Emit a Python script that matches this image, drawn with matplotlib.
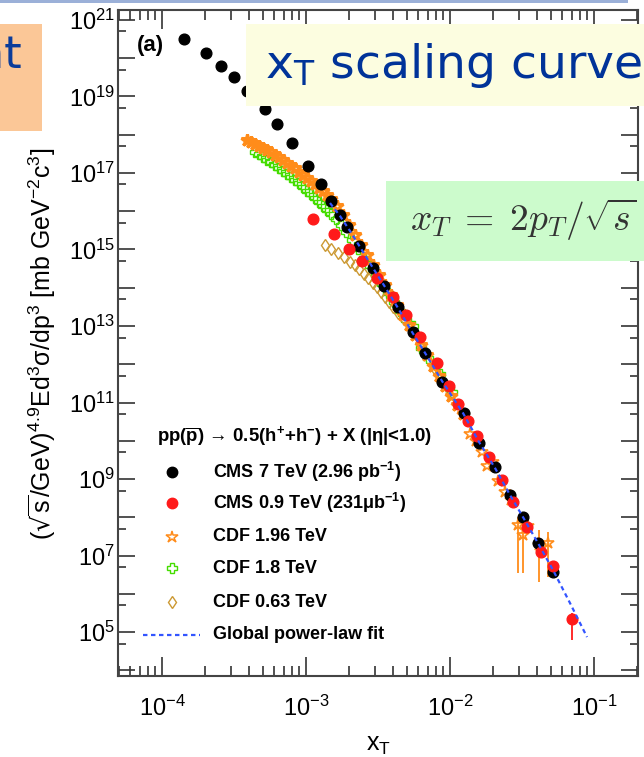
import matplotlib
matplotlib.use("Agg")
import matplotlib.pyplot as plt
from matplotlib.patches import Rectangle
from matplotlib.ticker import LogLocator, FuncFormatter, NullFormatter
import numpy as np

plt.rcParams['font.family'] = ['Liberation Sans', 'DejaVu Sans']

# CMS 7 TeV (black)
cms7_xt = [1.42e-4, 2.01e-4, 2.57e-4, 3.15e-4, 3.91e-4, 5.16e-4, 6.29e-4, 8.04e-4,
           1.03e-3, 1.265e-3, 1.50e-3, 1.72e-3, 1.94e-3, 2.34e-3, 2.92e-3, 3.48e-3,
           4.37e-3, 5.49e-3, 6.70e-3, 8.84e-3, 1.245e-2, 1.58e-2, 2.04e-2, 2.61e-2,
           3.21e-2, 4.06e-2, 5.21e-2]
cms7_y = [3.1e20, 1.35e20, 6.4e19, 3.3e19, 1.39e19, 4.8e18, 1.95e18, 5.97e17,
          1.55e17, 5.07e16, 1.85e16, 8.2e15, 3.8e15, 1.26e15, 3.28e14, 1.11e14,
          3.08e13, 6.97e12, 2.0e12, 3.5e11, 5.2e10, 8.6e9, 2.06e9, 3.8e8,
          1.02e8, 2.16e7, 3.64e6]

# CMS 0.9 TeV (red)
cms09_xt = [1.112e-3, 1.563e-3, 1.99e-3, 2.45e-3, 3.10e-3, 4.0e-3, 4.91e-3, 6.14e-3,
            8.13e-3, 9.84e-3, 1.143e-2, 1.34e-2, 1.53e-2, 1.86e-2, 2.30e-2, 2.75e-2,
            3.41e-2, 4.29e-2, 5.21e-2, 7.0e-2]
cms09_y = [6.27e15, 2.5e15, 1.05e15, 5.0e14, 1.83e14, 5.6e13, 1.97e13, 5.1e12,
           1.06e12, 2.7e11, 8.97e10, 3.38e10, 1.37e10, 3.83e9, 9.4e8, 2.46e8,
           5.46e7, 1.26e7, 5.4e6, 2.15e5]
cms09_last_lo = 6.2e4
cms09_last_hi = 3.14e5

# CDF 1.96 TeV (orange stars), dense low-xT band
cdf196_xt = [3.89e-4, 4.15e-4, 4.42e-4, 4.72e-4, 5.03e-4, 5.36e-4, 5.71e-4, 6.09e-4,
             6.49e-4, 6.92e-4, 7.38e-4, 7.87e-4, 8.39e-4, 8.94e-4, 9.53e-4, 1.016e-3,
             1.083e-3, 1.155e-3, 1.231e-3, 1.312e-3, 1.399e-3, 1.492e-3,
             1.642e-3, 1.807e-3, 1.989e-3, 2.189e-3, 2.409e-3, 2.652e-3, 2.919e-3,
             3.212e-3, 3.536e-3, 3.892e-3, 4.283e-3, 4.715e-3, 5.19e-3, 5.71e-3,
             6.29e-3, 6.92e-3, 7.62e-3, 8.39e-3, 9.23e-3, 1.016e-2, 1.118e-2, 1.231e-2]
cdf196_y = [7.30e17, 6.52e17, 5.80e17, 5.14e17, 4.51e17, 3.95e17, 3.44e17, 2.96e17,
            2.54e17, 2.17e17, 1.85e17, 1.56e17, 1.31e17, 1.09e17, 9.08e16, 7.50e16,
            6.14e16, 5.00e16, 4.05e16, 3.28e16, 2.63e16, 2.10e16,
            1.37e16, 7.98e15, 4.38e15, 2.40e15, 1.31e15, 7.18e14, 3.93e14,
            2.15e14, 1.18e14, 6.46e13, 3.54e13, 1.94e13, 1.06e13, 5.82e12,
            3.18e12, 1.75e12, 8.99e11, 4.93e11, 2.70e11, 1.48e11, 8.61e10, 5.00e10]
# CDF 1.96 TeV, high-xT points
cdf196h_xt = [1.377e-2, 1.516e-2, 1.669e-2, 1.807e-2, 1.989e-2, 2.154e-2, 2.409e-2,
              2.652e-2, 3.48e-2]
cdf196h_y = [1.50e10, 9.84e9, 5.08e9, 2.19e9, 2.78e9, 8.87e8, 4.57e8, 2.83e8, 5.90e7]
# CDF 1.96 TeV points with visible error bars
cdf196e_xt = [2.966e-2, 3.212e-2, 4.15e-2, 4.79e-2]
cdf196e_y = [6.27e7, 3.43e7, 1.88e7, 2.12e7]
cdf196e_lo = [3.48e6, 3.48e6, 2.03e6, 2.74e6]
cdf196e_hi = [1.02e8, 5.56e7, 4.64e7, 4.11e7]

# CDF 1.8 TeV (green crosses)
cdf18_xt = [4.42e-4, 4.72e-4, 5.03e-4, 5.36e-4, 5.71e-4, 6.09e-4, 6.49e-4, 6.92e-4,
            7.38e-4, 7.87e-4, 8.39e-4, 8.94e-4, 9.53e-4, 1.016e-3, 1.083e-3, 1.155e-3,
            1.231e-3, 1.312e-3, 1.399e-3, 1.492e-3, 1.616e-3, 1.750e-3, 1.896e-3,
            2.087e-3, 2.297e-3, 2.528e-3, 2.782e-3, 3.062e-3, 3.371e-3, 3.71e-3,
            4.08e-3, 4.49e-3, 4.95e-3, 5.53e-3, 6.29e-3, 7.03e-3, 8.52e-3, 1.032e-2]
cdf18_y = [3.54e17, 3.05e17, 2.62e17, 2.25e17, 1.94e17, 1.62e17, 1.35e17, 1.13e17,
           9.42e16, 7.86e16, 6.56e16, 5.31e16, 4.31e16, 3.48e16, 2.82e16, 2.22e16,
           1.75e16, 1.37e16, 1.08e16, 8.47e15, 6.27e15, 4.38e15, 2.87e15,
           1.77e15, 1.03e15, 6.0e14, 3.71e14, 2.15e14, 1.25e14, 7.29e13,
           4.24e13, 2.47e13, 1.44e13, 1.0e13, 2.66e12, 1.46e12, 5.56e11, 1.88e11]

# CDF 0.63 TeV (tan diamonds)
cdf063_xt = [1.355e-3, 1.503e-3, 1.669e-3, 1.836e-3, 2.005e-3, 2.172e-3, 2.352e-3,
             2.528e-3, 2.716e-3, 2.919e-3, 3.112e-3, 3.318e-3, 3.536e-3, 3.77e-3,
             4.02e-3, 4.35e-3, 4.79e-3, 5.45e-3, 6.39e-3, 7.74e-3, 9.38e-3]
cdf063_y = [1.31e15, 1.0e15, 7.86e14, 6.18e14, 4.85e14, 3.82e14, 3.0e14,
            2.29e14, 1.75e14, 1.33e14, 1.02e14, 7.74e13, 5.73e13, 4.24e13,
            3.14e13, 2.19e13, 1.52e13, 7.40e12, 2.82e12, 7.98e11, 2.70e11]

# global power-law fit (blue dashed)
fit_xt = [1.468e-3, 1.722e-3, 2.021e-3, 2.371e-3, 2.919e-3, 3.536e-3, 4.35e-3, 5.45e-3,
          6.71e-3, 8.80e-3, 1.231e-2, 1.590e-2, 2.054e-2, 2.61e-2, 3.27e-2, 4.08e-2,
          5.19e-2, 6.81e-2, 8.94e-2]
fit_y = [1.64e16, 7.52e15, 3.05e15, 1.16e15, 3.28e14, 1.05e14, 2.96e13, 6.97e12,
         1.97e12, 3.65e11, 5.31e10, 9.27e9, 1.94e9, 3.82e8, 9.0e7, 2.12e7,
         4.18e6, 5.73e5, 7.4e4]

legend_header = r"pp($\overline{\mathregular{p}}$) → 0.5(h$^{\mathregular{+}}$+h$^{\mathregular{-}}$) + X (|η|<1.0)"
legend_labels = [r"CMS 7 TeV (2.96 pb$^{\mathregular{-1}}$)",
                 r"CMS 0.9 TeV (231μb$^{\mathregular{-1}}$)",
                 "CDF 1.96 TeV", "CDF 1.8 TeV", "CDF 0.63 TeV",
                 "Global power-law fit"]

black = '#000000'
red = '#FF1A1A'
orange = '#FF8C1A'
green = '#44DD00'
tan = '#CC9933'
blue = '#3355FF'

W, H = 644, 757
fig = plt.figure(figsize=(W / 100, H / 100), dpi=100)


def fx(x):
    return x / W


def fy(y):
    return 1 - y / H


ax = fig.add_axes([fx(118), fy(676), (638 - 118) / W, (676 - 10) / H])
ax.set_xscale('log')
ax.set_yscale('log')

ax.plot(cdf18_xt, cdf18_y, ls='none', marker='P', ms=7, mfc='none', mec=green, mew=1.0, zorder=2)
ax.plot(cdf063_xt, cdf063_y, ls='none', marker='d', ms=6.5, mfc='none', mec=tan, mew=1.0, zorder=2)
ax.plot(cdf196_xt, cdf196_y, ls='none', marker='*', ms=9, mfc='none', mec=orange, mew=2.2, zorder=3)
ax.plot(cdf196h_xt, cdf196h_y, ls='none', marker='*', ms=9, mfc='none', mec=orange, mew=1.2, zorder=3)
ax.errorbar(cdf196e_xt, cdf196e_y,
            yerr=[np.array(cdf196e_y) - np.array(cdf196e_lo), np.array(cdf196e_hi) - np.array(cdf196e_y)],
            fmt='*', ms=9, mfc='none', mec=orange, mew=1.2, ecolor=orange, elinewidth=1.3, zorder=3)
ax.plot(cms7_xt, cms7_y, ls='none', marker='o', ms=7.7, color=black, zorder=4)
ax.plot(cms09_xt, cms09_y, ls='none', marker='o', ms=7.7, color=red, zorder=5)
ax.errorbar([cms09_xt[-1]], [cms09_y[-1]],
            yerr=[[cms09_y[-1] - cms09_last_lo], [cms09_last_hi - cms09_y[-1]]],
            fmt='none', ecolor=red, elinewidth=1.3, zorder=5)
ax.plot(fit_xt, fit_y, color=blue, lw=1.6, ls=(0, (2, 1.6)), zorder=6)

ax.set_xlim(4.95e-5, 0.202)
ax.set_ylim(7.1e3, 1.82e21)


def ylab(v, pos):
    e = int(round(np.log10(v)))
    if e % 2 == 1:
        return r'$\mathregular{10^{%d}}$' % e
    return ''


def xlab(v, pos):
    e = int(round(np.log10(v)))
    return r'$\mathregular{10^{%d}}$' % e


ax.yaxis.set_major_locator(LogLocator(base=10, numticks=40))
ax.yaxis.set_minor_locator(LogLocator(base=10, subs=(5.0,), numticks=40))
ax.yaxis.set_major_formatter(FuncFormatter(ylab))
ax.yaxis.set_minor_formatter(NullFormatter())
ax.xaxis.set_major_locator(LogLocator(base=10, numticks=20))
ax.xaxis.set_minor_locator(LogLocator(base=10, subs=np.arange(2, 10), numticks=20))
ax.xaxis.set_major_formatter(FuncFormatter(xlab))
ax.xaxis.set_minor_formatter(NullFormatter())

ax.tick_params(which='both', direction='in', top=True, right=True, color='#333333', width=1.2)
ax.tick_params(axis='y', which='major', length=12, labelsize=17, pad=2)
ax.tick_params(axis='y', which='minor', length=6)
ax.tick_params(axis='x', which='major', length=14, labelsize=17, pad=14)
ax.tick_params(axis='x', which='minor', length=7)
for s in ax.spines.values():
    s.set_linewidth(1.5)
    s.set_color('#444444')

# legend drawn by hand
ax.text(0.075, 0.359, legend_header, transform=ax.transAxes, fontsize=13.4,
        fontweight='bold', va='center', ha='left')
rows = [0.306, 0.260, 0.209, 0.162, 0.111, 0.0616]
ax.plot([0.104], [rows[0]], 'o', ms=7.5, color=black, transform=ax.transAxes, clip_on=False)
ax.plot([0.104], [rows[1]], 'o', ms=7.5, color=red, transform=ax.transAxes, clip_on=False)
ax.plot([0.104], [rows[2]], '*', ms=9, mfc='none', mec=orange, mew=1.1, transform=ax.transAxes, clip_on=False)
ax.plot([0.104], [rows[3]], 'P', ms=7, mfc='none', mec=green, mew=1.0, transform=ax.transAxes, clip_on=False)
ax.plot([0.104], [rows[4]], 'd', ms=6.5, mfc='none', mec=tan, mew=1.0, transform=ax.transAxes, clip_on=False)
ax.plot([0.048, 0.158], [rows[5], rows[5]], color=blue, lw=1.6, ls=(0, (2, 1.6)), transform=ax.transAxes)
for r, lab in zip(rows, legend_labels):
    ax.text(0.183, r, lab, transform=ax.transAxes, fontsize=13, fontweight='bold', va='center', ha='left')

fig.text(fx(137), fy(46), '(a)', fontsize=16, fontweight='bold', va='center', ha='left')

fig.text(fx(42), fy(344),
         r"($\sqrt{\mathregular{s}}$/GeV)$^{\mathregular{4.9}}$Ed$^{\mathregular{3}}$σ/dp$^{\mathregular{3}}$ [mb GeV$^{\mathregular{-2}}$c$^{\mathregular{3}}$]",
         rotation=90, fontsize=18, ha='center', va='center')
fig.text(fx(378), fy(745), r"x$_{\mathregular{T}}$", fontsize=18, ha='center', va='center')

# slide overlays
fig.add_artist(Rectangle((0, fy(3)), fx(628), 3 / H, transform=fig.transFigure,
                         facecolor='#9BB0D8', edgecolor='none', zorder=10))
fig.add_artist(Rectangle((0, fy(131)), fx(42), (131 - 24) / H, transform=fig.transFigure,
                         facecolor='#FBC797', edgecolor='none', zorder=10))
fig.text(fx(22), fy(68), 'nt', family='DejaVu Sans', fontsize=32, color='#0B3C9A',
         ha='right', va='baseline', zorder=11)
fig.add_artist(Rectangle((fx(246), fy(106)), (W - 246) / W, (106 - 24) / H, transform=fig.transFigure,
                         facecolor='#FCFDE0', edgecolor='none', zorder=10))
fig.text(fx(265), fy(78), r'x$_{\mathregular{T}}$ scaling curve', family='DejaVu Sans', fontsize=34,
         color='#003399', ha='left', va='baseline', zorder=11)
fig.add_artist(Rectangle((fx(386), fy(261)), (W - 386) / W, (261 - 181) / H, transform=fig.transFigure,
                         facecolor='#CCFBCC', edgecolor='none', zorder=10))
fig.text(fx(410), fy(231), r'$x_T\;=\;2p_T/\sqrt{s}$', math_fontfamily='cm', fontsize=27,
         color='#333333', ha='left', va='baseline', zorder=11)

fig.savefig('out.png', dpi=100)
